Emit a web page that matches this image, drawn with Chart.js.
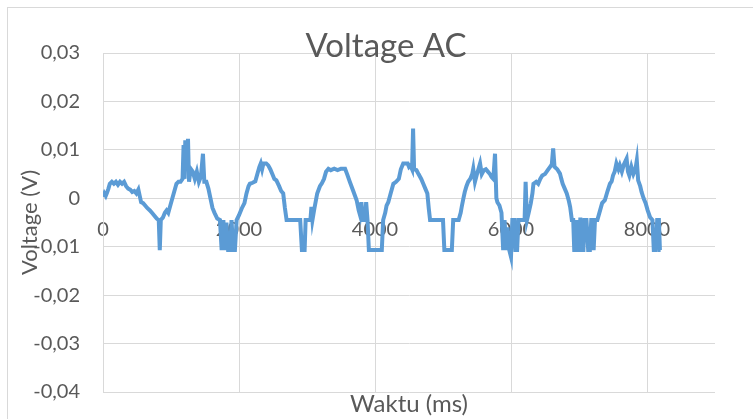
<!DOCTYPE html>
<html>
<head>
<meta charset="utf-8">
<script src="https://cdn.jsdelivr.net/npm/chart.js@4"></script>
<style>
  body { margin: 0; background: #fff; }
  #wrap { width: 753px; height: 419px; position: relative; }
</style>
</head>
<body>
<div id="wrap"><canvas id="chart"></canvas></div>
<script>
// Waktu (ms) and voltage (V)
const timeMs = [
  0, 20, 40, 60, 80, 100, 130, 160, 190, 220, 250, 280, 310, 340, 370, 400, 430, 460, 490, 520,
  540, 560, 590, 620, 650, 690, 720, 750, 790, 820, 835, 850, 880, 910, 935, 960, 990, 1020, 1050, 1080,
  1110, 1140, 1170, 1185, 1200, 1210, 1230, 1250, 1265, 1290, 1320, 1350, 1380, 1410, 1440, 1470, 1490, 1520, 1550, 1580,
  1610, 1640, 1680, 1720, 1745, 1770, 1790, 1815, 1840, 1870, 1890, 1915, 1940, 1965, 2000, 2040, 2080, 2110, 2140, 2160,
  2200, 2240, 2270, 2300, 2320, 2340, 2360, 2400, 2430, 2460, 2490, 2520, 2550, 2590, 2620, 2650, 2675, 2700, 2750, 2800,
  2850, 2900, 2925, 2965, 2980, 3020, 3050, 3065, 3080, 3110, 3150, 3190, 3215, 3250, 3280, 3315, 3350, 3400, 3450, 3500,
  3560, 3590, 3630, 3680, 3730, 3760, 3780, 3800, 3820, 3850, 3870, 3890, 3910, 3950, 4000, 4050, 4100, 4120, 4150, 4170,
  4195, 4230, 4270, 4310, 4350, 4380, 4415, 4450, 4480, 4500, 4520, 4545, 4560, 4575, 4610, 4640, 4680, 4710, 4740, 4770,
  4790, 4810, 4850, 4900, 4950, 5000, 5020, 5060, 5100, 5130, 5150, 5200, 5230, 5260, 5275, 5300, 5320, 5345, 5370, 5400,
  5430, 5445, 5470, 5500, 5520, 5545, 5570, 5600, 5630, 5660, 5690, 5715, 5740, 5765, 5785, 5800, 5830, 5860, 5885, 5905,
  5930, 5950, 5975, 6000, 6020, 6050, 6065, 6090, 6110, 6150, 6200, 6215, 6235, 6260, 6290, 6315, 6330, 6370, 6400, 6430,
  6460, 6500, 6540, 6575, 6600, 6620, 6640, 6680, 6720, 6740, 6760, 6790, 6820, 6850, 6870, 6895, 6915, 6930, 6950, 6965,
  6985, 7000, 7020, 7045, 7065, 7080, 7110, 7135, 7160, 7180, 7200, 7215, 7235, 7270, 7310, 7340, 7380, 7420, 7455, 7480,
  7500, 7525, 7550, 7580, 7600, 7630, 7660, 7700, 7720, 7740, 7770, 7800, 7830, 7850, 7870, 7900, 7920, 7950, 7980, 8010,
  8045, 8080, 8100, 8130, 8150, 8175, 8190, 8200
];
const voltage = [
  0.0003, 0.0010, 0.0005, 0.0012, 0.0020, 0.0030, 0.0034, 0.0030, 0.0034, 0.0028, 0.0034, 0.0030, 0.0034, 0.0025, 0.0020, 0.0018, 0.0013, 0.0015, 0.0010, 0.0018,
  0.0005, -0.0008, -0.0010, -0.0015, -0.0020, -0.0025, -0.0030, -0.0035, -0.0042, -0.0045, -0.0107, -0.0045, -0.0040, -0.0030, -0.0025, -0.0030, -0.0015, 0.0000, 0.0015, 0.0030,
  0.0034, 0.0034, 0.0040, 0.0110, 0.0040, 0.0120, 0.0060, 0.0123, 0.0034, 0.0061, 0.0055, 0.0040, 0.0055, 0.0034, 0.0045, 0.0092, 0.0034, 0.0034, 0.0020, 0.0000,
  -0.0020, -0.0030, -0.0042, -0.0045, -0.0107, -0.0045, -0.0107, -0.0050, -0.0107, -0.0107, -0.0045, -0.0107, -0.0107, -0.0045, -0.0035, -0.0021, -0.0010, 0.0010, 0.0025, 0.0030,
  0.0032, 0.0035, 0.0050, 0.0065, 0.0072, 0.0060, 0.0072, 0.0072, 0.0068, 0.0060, 0.0050, 0.0040, 0.0037, 0.0025, 0.0015, 0.0010, -0.0020, -0.0045, -0.0045, -0.0045,
  -0.0045, -0.0045, -0.0107, -0.0107, -0.0045, -0.0045, -0.0045, -0.0018, -0.0045, -0.0020, 0.0010, 0.0025, 0.0030, 0.0040, 0.0055, 0.0061, 0.0058, 0.0061, 0.0058, 0.0061,
  0.0061, 0.0050, 0.0034, 0.0015, -0.0004, -0.0025, -0.0035, -0.0008, -0.0045, -0.0045, -0.0008, -0.0045, -0.0107, -0.0107, -0.0107, -0.0107, -0.0107, -0.0045, -0.0030, -0.0015,
  -0.0008, 0.0010, 0.0030, 0.0034, 0.0040, 0.0060, 0.0072, 0.0072, 0.0072, 0.0065, 0.0068, 0.0060, 0.0144, 0.0060, 0.0058, 0.0050, 0.0040, 0.0030, 0.0020, 0.0010,
  -0.0020, -0.0045, -0.0045, -0.0045, -0.0045, -0.0045, -0.0107, -0.0107, -0.0107, -0.0107, -0.0045, -0.0045, -0.0045, -0.0030, -0.0018, 0.0000, 0.0013, 0.0025, 0.0034, 0.0040,
  0.0050, 0.0061, 0.0034, 0.0050, 0.0060, 0.0072, 0.0050, 0.0058, 0.0060, 0.0055, 0.0050, 0.0044, 0.0040, 0.0092, 0.0000, -0.0008, -0.0015, -0.0030, -0.0107, -0.0045,
  -0.0107, -0.0060, -0.0107, -0.0121, -0.0045, -0.0045, -0.0107, -0.0107, -0.0045, -0.0045, -0.0045, 0.0034, -0.0045, -0.0030, -0.0011, 0.0010, 0.0030, 0.0034, 0.0030, 0.0040,
  0.0047, 0.0050, 0.0058, 0.0065, 0.0070, 0.0103, 0.0065, 0.0060, 0.0051, 0.0040, 0.0030, 0.0020, 0.0010, -0.0005, -0.0018, -0.0045, -0.0045, -0.0107, -0.0107, -0.0045,
  -0.0107, -0.0107, -0.0040, -0.0107, -0.0107, -0.0045, -0.0045, -0.0107, -0.0107, -0.0045, -0.0045, -0.0107, -0.0045, -0.0045, -0.0025, -0.0010, -0.0004, 0.0015, 0.0030, 0.0035,
  0.0047, 0.0055, 0.0072, 0.0060, 0.0068, 0.0055, 0.0070, 0.0082, 0.0055, 0.0047, 0.0065, 0.0050, 0.0060, 0.0078, 0.0037, 0.0025, 0.0013, 0.0000, -0.0010, -0.0025,
  -0.0039, -0.0045, -0.0107, -0.0107, -0.0045, -0.0045, -0.0107, -0.0107
];
const xTicks = [0, 2000, 4000, 6000, 8000];
const yMin = -0.04, yMax = 0.03, yStep = 0.01;

const points = timeMs.map((t, i) => ({ x: t, y: voltage[i] }));

const gridColor = '#d9d9d9';
const textColor = '#595959';
const fontFamily = 'Lato, "Open Sans", sans-serif';

// outer chart border and the title, centred on the frame like Excel does
const frame = {
  id: 'frame',
  beforeDraw(chart) {
    const ctx = chart.ctx;
    ctx.save();
    ctx.strokeStyle = gridColor;
    ctx.lineWidth = 1;
    ctx.strokeRect(7.5, 7.5, 900, 600);
    ctx.restore();
  },
  afterDraw(chart) {
    const ctx = chart.ctx;
    ctx.save();
    ctx.fillStyle = textColor;
    ctx.font = '33px ' + fontFamily;
    ctx.textAlign = 'center';
    ctx.textBaseline = 'alphabetic';
    ctx.fillText('Voltage AC', 386, 57);
    ctx.restore();
  }
};

new Chart(document.getElementById('chart'), {
  type: 'scatter',
  data: {
    datasets: [{
      data: points,
      showLine: true,
      borderColor: '#5b9bd5',
      borderWidth: 4,
      pointRadius: 0,
      pointHoverRadius: 0,
      tension: 0
    }]
  },
  options: {
    responsive: true,
    maintainAspectRatio: false,
    animation: false,
    layout: { padding: { left: 0, right: 38, top: 53, bottom: 0 } },
    plugins: {
      legend: { display: false },
      tooltip: { enabled: false },
      title: { display: false }
    },
    scales: {
      x: {
        type: 'linear',
        position: { y: 0 },
        min: 0,
        max: 9000,
        afterBuildTicks(scale) {
          scale.ticks = xTicks.map(v => ({ value: v }));
        },
        ticks: {
          color: textColor,
          font: { family: fontFamily, size: 20 },
          padding: 19,
          maxRotation: 0,
          autoSkip: false,
          callback: v => String(v)
        },
        grid: { color: gridColor, drawTicks: false },
        border: { display: true, color: gridColor }
      },
      x2: {
        type: 'linear',
        position: 'bottom',
        min: 0,
        max: 9000,
        afterFit(scale) { scale.height = 27; },
        ticks: { display: false },
        grid: { display: false, drawTicks: false },
        border: { display: false },
        title: {
          display: true,
          text: 'Waktu (ms)',
          color: textColor,
          font: { family: fontFamily, size: 24 },
          padding: { top: 0, bottom: 0 }
        }
      },
      y: {
        type: 'linear',
        min: yMin,
        max: yMax,
        afterFit(scale) {
          scale.width = 103;
          scale.paddingTop = 0;
          scale.paddingBottom = 0;
        },
        ticks: {
          stepSize: yStep,
          color: textColor,
          font: { family: fontFamily, size: 20 },
          padding: 23,
          callback(v) {
            const r = Math.round(v * 100) / 100;
            return r === 0 ? '0' : r.toFixed(2).replace('.', ',');
          }
        },
        grid: { color: gridColor, drawTicks: false },
        border: { display: true, color: gridColor },
        title: {
          display: true,
          text: 'Voltage (V)',
          color: textColor,
          font: { family: fontFamily, size: 22 },
          padding: { top: 17, bottom: 0 }
        }
      }
    }
  },
  plugins: [frame]
});
</script>
</body>
</html>
